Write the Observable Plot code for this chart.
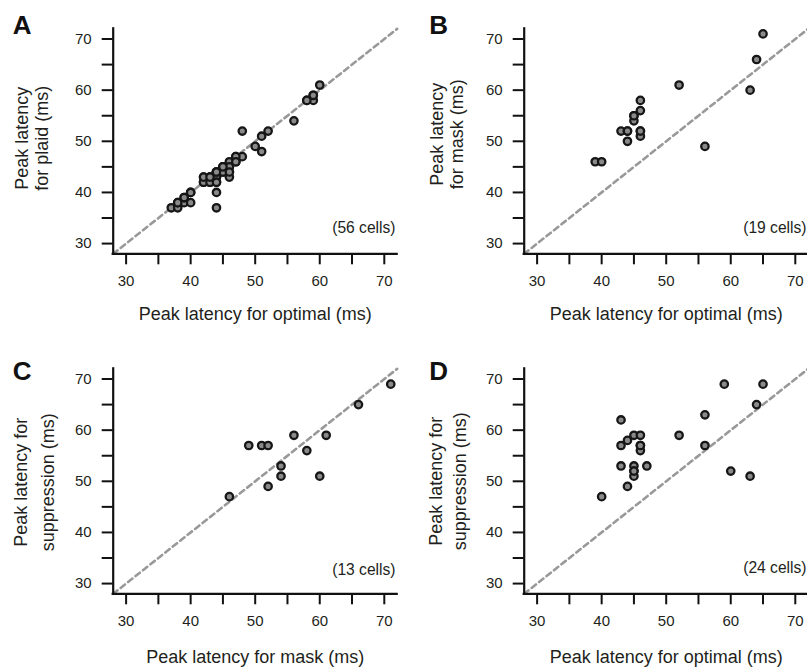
<!DOCTYPE html>
<html>
<head>
<meta charset="utf-8">
<script src="https://cdn.jsdelivr.net/npm/d3@7"></script>
<script src="https://cdn.jsdelivr.net/npm/@observablehq/plot@0.6"></script>
<style>
  html, body { margin: 0; padding: 0; background: #fff; overflow: hidden; }
  #fig { position: relative; width: 807px; height: 670px; overflow: hidden; font-family: "Liberation Sans", Arial, Helvetica, sans-serif; }
  .panel { position: absolute; width: 403px; height: 330px; }
  .panel svg { max-width: none !important; width: 403px; height: 330px; }
  .panel g[aria-label$="tick label"] { font-size: 15px !important; fill: #231f20; }
</style>
</head>
<body>
<div id="fig"></div>
<script>
// ---- Data ----
const axisDomain = [28, 72];
const tickValues = [30, 35, 40, 45, 50, 55, 60, 65, 70];
const tickLabels = [30, 40, 50, 60, 70];

// Panel A: optimal (x) vs plaid (y), 56 cells
const aOptimal = [37,38,38,39,39,40,40,42,42,43,43,44,44,44,45,45,46,46,46,44,44,47,47,48,48,50,51,51,52,56,58,59,59,60,
                  42,43,44,44,45,45,43,44,46,46,47,38,39,40,42,43,44,45,46,58,59,47];
const aPlaid   = [37,37,38,38,39,38,40,43,42,43,42,42,43,44,44,45,45,44,43,40,37,46,47,47,52,49,48,51,52,54,58,58,59,61,
                  42,43,43,44,45,44,42,42,46,45,47,38,39,40,43,43,44,45,44,58,59,46];

// Panel B: optimal (x) vs mask (y), 19 cells
const bOptimal = [39,40,43,44,44,45,45,46,46,46,46,52,56,63,64,65,46,45,44];
const bMask    = [46,46,52,52,50,55,54,58,56,52,51,61,49,60,66,71,52,55,52];

// Panel C: mask (x) vs suppression (y), 13 cells
const cMask        = [46,49,51,52,52,54,54,56,58,60,61,66,71];
const cSuppression = [47,57,57,57,49,51,53,59,56,51,59,65,69];

// Panel D: optimal (x) vs suppression (y), 24 cells
const dOptimal     = [40,43,43,43,44,44,45,45,45,45,46,46,46,47,52,56,56,59,60,63,64,65,45,46];
const dSuppression = [47,62,57,53,58,49,59,53,52,51,59,57,56,53,59,63,57,69,52,51,65,69,52,57];

const panelLetters = ["A", "B", "C", "D"];
const xLabels = ["Peak latency for optimal (ms)", "Peak latency for optimal (ms)", "Peak latency for mask (ms)", "Peak latency for optimal (ms)"];
const yLabelLine1 = ["Peak latency", "Peak latency", "Peak latency for", "Peak latency for"];
const yLabelLine2 = ["for plaid (ms)", "for mask (ms)", "suppression (ms)", "suppression (ms)"];
const cellCounts = [56, 19, 13, 24];

const seriesX = [aOptimal, bOptimal, cMask, dOptimal];
const seriesY = [aPlaid, bMask, cSuppression, dSuppression];

// ---- Layout (positions/styles only) ----
const layout = [
  {left: 0,   top: 0,   letterDx: -100.5, letterDy: 5,  y1Dx: -85.5, y2Dx: -65.5, yDy: -3, xDy: 66, cellDy: -21},
  {left: 411, top: 0,   letterDx: -95,    letterDy: 5,  y1Dx: -81.5, y2Dx: -61,   yDy: -7, xDy: 66, cellDy: -21},
  {left: 0,   top: 340, letterDx: -100.5, letterDy: 11, y1Dx: -86,   y2Dx: -59.5, yDy: 1,  xDy: 69, cellDy: -19},
  {left: 411, top: 340, letterDx: -95,    letterDy: 11, y1Dx: -82,   y2Dx: -58,   yDy: 0,  xDy: 69, cellDy: -21}
];

const FONT = '"Liberation Sans", Arial, Helvetica, sans-serif';
const INK = "#231f20";
const fig = document.getElementById("fig");

for (let p = 0; p < 4; p++) {
  const L = layout[p];
  const pts = seriesX[p].map((x, i) => ({x, y: seriesY[p][i]}));
  const chart = Plot.plot({
    width: 403,
    height: 330,
    marginTop: 28.3,
    marginLeft: 112.7,
    marginRight: 6.3,
    marginBottom: 76.7,
    x: {domain: axisDomain, label: null},
    y: {domain: axisDomain, label: null},
    style: {fontFamily: FONT, fontSize: "15px", color: INK, background: "transparent", overflow: "visible"},
    marks: [
      Plot.line(axisDomain, {x: d => d, y: d => d, stroke: "#999999", strokeWidth: 2.6, strokeDasharray: "5.5,4"}),
      Plot.axisX({ticks: tickValues, tickSize: 11, tickPadding: 11, strokeWidth: 2, stroke: "#111",
                  tickFormat: d => tickLabels.includes(d) ? String(d) : "", fontSize: 15, label: null}),
      Plot.axisY({ticks: tickValues, tickSize: 11, tickPadding: 10.5, strokeWidth: 2, stroke: "#111",
                  tickFormat: d => tickLabels.includes(d) ? String(d) : "", fontSize: 15, label: null}),
      Plot.ruleX([axisDomain[0]], {stroke: "#111", strokeWidth: 2.2, strokeLinecap: "square"}),
      Plot.ruleY([axisDomain[0]], {stroke: "#111", strokeWidth: 2.2, strokeLinecap: "square"}),
      Plot.dot(pts, {x: "x", y: "y", r: 3.7, fill: "#8a8a8a", stroke: "#161616", strokeWidth: 2.3}),
      Plot.text([panelLetters[p]], {frameAnchor: "top-left", text: d => d, textAnchor: "start", lineAnchor: "bottom",
                  dx: L.letterDx, dy: L.letterDy, fontSize: 26, fontWeight: "bold", fill: "#111"}),
      Plot.text([yLabelLine1[p]], {frameAnchor: "left", text: d => d, rotate: -90, textAnchor: "middle", lineAnchor: "bottom",
                  dx: L.y1Dx, dy: L.yDy, fontSize: 18, fill: INK}),
      Plot.text([yLabelLine2[p]], {frameAnchor: "left", text: d => d, rotate: -90, textAnchor: "middle", lineAnchor: "bottom",
                  dx: L.y2Dx, dy: L.yDy, fontSize: 18, fill: INK}),
      Plot.text([xLabels[p]], {frameAnchor: "bottom", text: d => d, textAnchor: "middle", lineAnchor: "bottom",
                  dy: L.xDy, fontSize: 18, fill: INK}),
      Plot.text([cellCounts[p]], {frameAnchor: "bottom-right", text: d => `(${d} cells)`, textAnchor: "end", lineAnchor: "bottom",
                  dx: -1.7, dy: L.cellDy, fontSize: 15.6, fill: INK})
    ]
  });
  const div = document.createElement("div");
  div.className = "panel";
  div.style.left = L.left + "px";
  div.style.top = L.top + "px";
  div.appendChild(chart);
  fig.appendChild(div);
}
</script>
</body>
</html>
